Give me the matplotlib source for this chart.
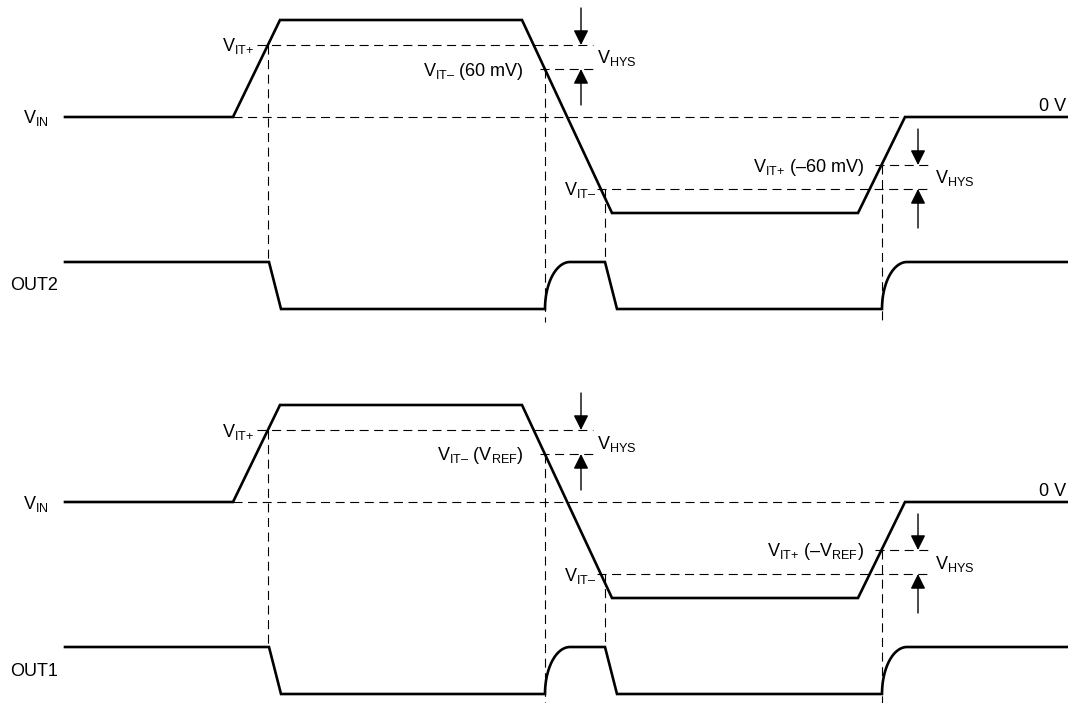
import numpy as np
import matplotlib
matplotlib.use("Agg")
import matplotlib.pyplot as plt

plt.rcParams['font.family'] = ['Liberation Sans', 'DejaVu Sans']
plt.rcParams['mathtext.fontset'] = 'custom'
plt.rcParams['mathtext.rm'] = 'Liberation Sans'
plt.rcParams['mathtext.it'] = 'Liberation Sans'
plt.rcParams['mathtext.default'] = 'regular'
plt.rcParams['lines.scale_dashes'] = False

# ---- timing diagram data (x = time position, y = level, in canvas px) ----
# input waveform corners
vin_t = [65, 233, 280, 522, 612, 858, 905, 1068]
vin_lvl = [117, 117, 20, 20, 213, 213, 117, 117]
# output: time of switching edges
out_t_start = 65
out_t_fall1 = 269
out_t_rise1 = 545
out_t_fall2 = 605
out_t_rise2 = 882
out_t_end = 1068
out_high = 262
out_low = 309
fall_width = 12
rise_width = 25
# thresholds
v_itp_upper = 45      # VIT+
v_itm_upper = 69      # VIT-
v_zero = 117
v_itp_lower = 165     # VIT+ (negative)
v_itm_lower = 189     # VIT- (negative)
# panel offset for second panel
panel_offset = [0, 385]
out_names = ["OUT2", "OUT1"]
upper_minus_label = ["(60 mV)", r"($V_{REF}$)"]
lower_plus_label = ["(–60 mV)", r"(–$V_{REF}$)"]

W, H = 1068, 703
fig = plt.figure(figsize=(W / 100, H / 100), dpi=100)
ax = fig.add_axes([0, 0, 1, 1])
ax.set_xlim(0, W)
ax.set_ylim(H, 0)
ax.axis('off')

LW = 1.9
DLW = 0.8
DASH = (0, (6.5, 4.0))
FS = 13

def dashed_h(y, x0, x1):
    ax.plot([x0, x1], [y, y], color='black', lw=DLW, linestyle=DASH)

def dashed_v(x, y0, y1):
    ax.plot([x, x], [y0, y1], color='black', lw=DLW, linestyle=DASH)

def arrow(x, y_from, y_to):
    ax.annotate('', xy=(x, y_to), xytext=(x, y_from),
                arrowprops=dict(arrowstyle='-|>,head_length=0.6,head_width=0.3',
                                mutation_scale=15, color='black', lw=1.0,
                                shrinkA=0, shrinkB=0))

def label(x, y, s, ha='left'):
    ax.text(x, y + 6.5, s, ha=ha, va='baseline', fontsize=FS)

VITP = r"$V_{IT{+}}$"
VITM = r"$V_{IT–}$"

for k, off in enumerate(panel_offset):
    # input waveform
    ax.plot(vin_t, [v + off for v in vin_lvl], color='black', lw=LW,
            solid_joinstyle='miter')
    # output waveform
    th = np.linspace(0, np.pi / 2, 40)
    xs = [out_t_start, out_t_fall1, out_t_fall1 + fall_width]
    ys = [out_high, out_high, out_low]
    xs += list(out_t_rise1 + rise_width * (1 - np.cos(th)))
    ys += list(out_low - (out_low - out_high) * np.sin(th))
    xs += [out_t_fall2, out_t_fall2 + fall_width]
    ys += [out_high, out_low]
    xs += list(out_t_rise2 + rise_width * (1 - np.cos(th)))
    ys += list(out_low - (out_low - out_high) * np.sin(th))
    xs += [out_t_end]
    ys += [out_high]
    ax.plot(xs, [y + off for y in ys], color='black', lw=LW,
            solid_joinstyle='miter')

    # horizontal dashed thresholds
    dashed_h(v_itp_upper + off, 257, 593)
    dashed_h(v_itm_upper + off, 540, 593)
    dashed_h(v_zero + off, 233, 905)
    dashed_h(v_itp_lower + off, 875, 930)
    dashed_h(v_itm_lower + off, 597, 930)

    # vertical dashed
    dashed_v(out_t_fall1 - 1, v_itp_upper + off, out_high + off)
    dashed_v(out_t_rise1, v_itm_upper + off, out_low + 13 + off)
    dashed_v(out_t_fall2, v_itm_lower + off, out_high + off)
    dashed_v(out_t_rise2, v_itp_lower + off, out_low + 13 + off)

    # hysteresis arrows
    arrow(581, 8 + off, v_itp_upper + off)
    arrow(581, 105 + off, v_itm_upper + off)
    arrow(918, 129 + off, v_itp_lower + off)
    arrow(918, 228 + off, v_itm_lower + off)

    # labels
    label(23, v_zero + off, r"$V_{IN}$")
    ax.text(10, 286 + off, out_names[k], ha='left', va='center', fontsize=FS)
    ax.text(1066, v_zero - 6 + off, "0 V", ha='right', va='baseline', fontsize=FS)
    label(222, v_itp_upper + off, VITP)
    label(524, v_itm_upper + off, VITM + " " + upper_minus_label[k], ha='right')
    label(597, (v_itp_upper + v_itm_upper) / 2 + off, r"$V_{HYS}$")
    label(564, v_itm_lower + off, VITM)
    label(864, v_itp_lower + off, VITP + " " + lower_plus_label[k], ha='right')
    label(935, (v_itp_lower + v_itm_lower) / 2 + off, r"$V_{HYS}$")

fig.savefig("out.png", dpi=100)
